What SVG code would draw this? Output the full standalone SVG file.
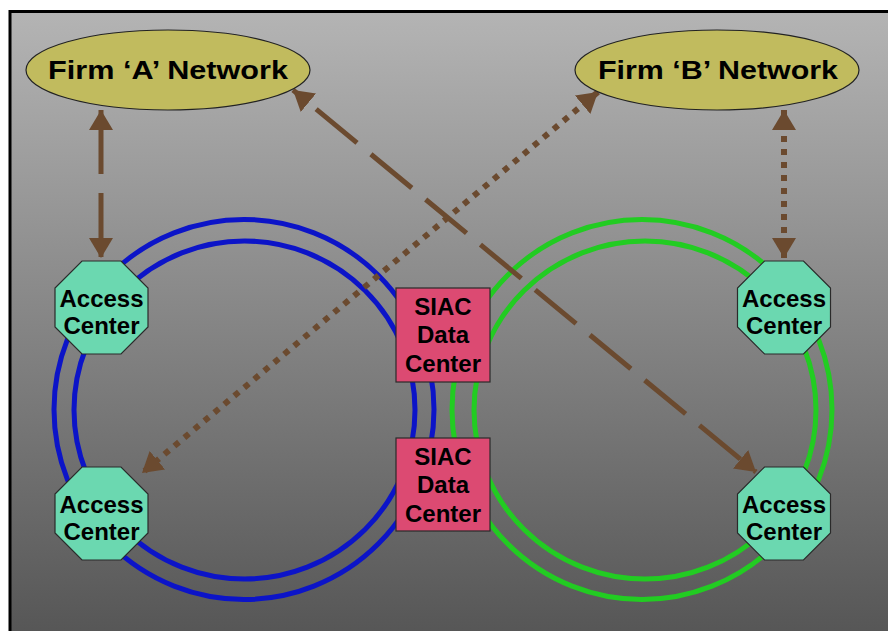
<svg xmlns="http://www.w3.org/2000/svg" width="888" height="631" viewBox="0 0 888 631">
  <defs>
    <linearGradient id="bg" x1="0" y1="0" x2="0" y2="1">
      <stop offset="0" stop-color="#b4b4b4"/>
      <stop offset="1" stop-color="#555555"/>
    </linearGradient>
    <marker id="ah" markerUnits="userSpaceOnUse" markerWidth="22" markerHeight="26" refX="20" refY="12" orient="auto-start-reverse" viewBox="0 0 22 26">
      <path d="M0,0 L20,12 L0,24 Z" fill="#6b4a2f"/>
    </marker>
    <style>
      .firm { fill: #c1bb5e; stroke: #222; stroke-width: 1.2; }
      .firmt { font-family: "Liberation Sans", Arial, sans-serif; font-weight: bold; font-size: 26px; fill: #000; text-anchor: middle; }
      .oct { fill: #6bd8b0; stroke: #2a2a2a; stroke-width: 1.2; }
      .box { fill: #dc4a72; stroke: #2a2a2a; stroke-width: 1.2; }
      .lbl { font-family: "Liberation Sans", Arial, sans-serif; font-weight: bold; font-size: 24px; fill: #000; text-anchor: middle; }
      .blue { fill: none; stroke: #0c14c8; stroke-width: 5; }
      .green { fill: none; stroke: #22cc22; stroke-width: 5; }
      .arr { fill: none; stroke: #6b4a2f; stroke-width: 5; marker-start: url(#ah); marker-end: url(#ah); }
      .dot { stroke-width: 6; stroke-dasharray: 6 7; }
    </style>
  </defs>
  <rect x="0" y="0" width="888" height="631" fill="#ffffff"/>
  <rect x="10" y="11.5" width="890" height="630" fill="url(#bg)" stroke="#000" stroke-width="3"/>

  <g id="rings">
    <ellipse class="blue" cx="244" cy="409.5" rx="190" ry="190"/>
    <ellipse class="blue" cx="244.5" cy="410" rx="170.5" ry="169"/>
    <ellipse class="green" cx="642" cy="409.5" rx="190" ry="190"/>
    <ellipse class="green" cx="645" cy="410" rx="171" ry="169"/>
  </g>

  <g id="connectors">
    <line class="arr" x1="101" y1="110" x2="101" y2="258" stroke-dasharray="64 19"/>
    <line class="arr dot" x1="784" y1="110" x2="784" y2="258"/>
    <line class="arr" x1="293" y1="90" x2="756" y2="472" stroke-dasharray="53 18" stroke-dashoffset="41"/>
    <line class="arr dot" x1="598" y1="92" x2="142" y2="473"/>
  </g>

  <g id="firmA">
    <ellipse class="firm" cx="168" cy="70" rx="142" ry="40"/>
    <text class="firmt" x="168" y="79" textLength="240" lengthAdjust="spacingAndGlyphs">Firm ‘A’ Network</text>
  </g>
  <g id="firmB">
    <ellipse class="firm" cx="717" cy="70" rx="142" ry="40"/>
    <text class="firmt" x="718" y="79" textLength="240" lengthAdjust="spacingAndGlyphs">Firm ‘B’ Network</text>
  </g>

  <g id="accessTL">
    <polygon class="oct" points="82,261 121,261 148,288 148,327 121,354 82,354 55,327 55,288"/>
    <text class="lbl" x="101.5" y="307">Access</text>
    <text class="lbl" x="101.5" y="333.5">Center</text>
  </g>
  <g id="accessBL">
    <polygon class="oct" points="82,467 121,467 148,494 148,533 121,560 82,560 55,533 55,494"/>
    <text class="lbl" x="101.5" y="513">Access</text>
    <text class="lbl" x="101.5" y="539.5">Center</text>
  </g>
  <g id="accessTR">
    <polygon class="oct" points="764.5,261 803.5,261 830.5,288 830.5,327 803.5,354 764.5,354 737.5,327 737.5,288"/>
    <text class="lbl" x="784" y="307">Access</text>
    <text class="lbl" x="784" y="333.5">Center</text>
  </g>
  <g id="accessBR">
    <polygon class="oct" points="764.5,467 803.5,467 830.5,494 830.5,533 803.5,560 764.5,560 737.5,533 737.5,494"/>
    <text class="lbl" x="784" y="513">Access</text>
    <text class="lbl" x="784" y="539.5">Center</text>
  </g>

  <g id="siac1">
    <rect class="box" x="396" y="288" width="94" height="94"/>
    <text class="lbl" x="443" y="315">SIAC</text>
    <text class="lbl" x="443" y="343">Data</text>
    <text class="lbl" x="443" y="372">Center</text>
  </g>
  <g id="siac2">
    <rect class="box" x="396" y="438" width="94" height="93"/>
    <text class="lbl" x="443" y="465">SIAC</text>
    <text class="lbl" x="443" y="493">Data</text>
    <text class="lbl" x="443" y="522">Center</text>
  </g>
</svg>
